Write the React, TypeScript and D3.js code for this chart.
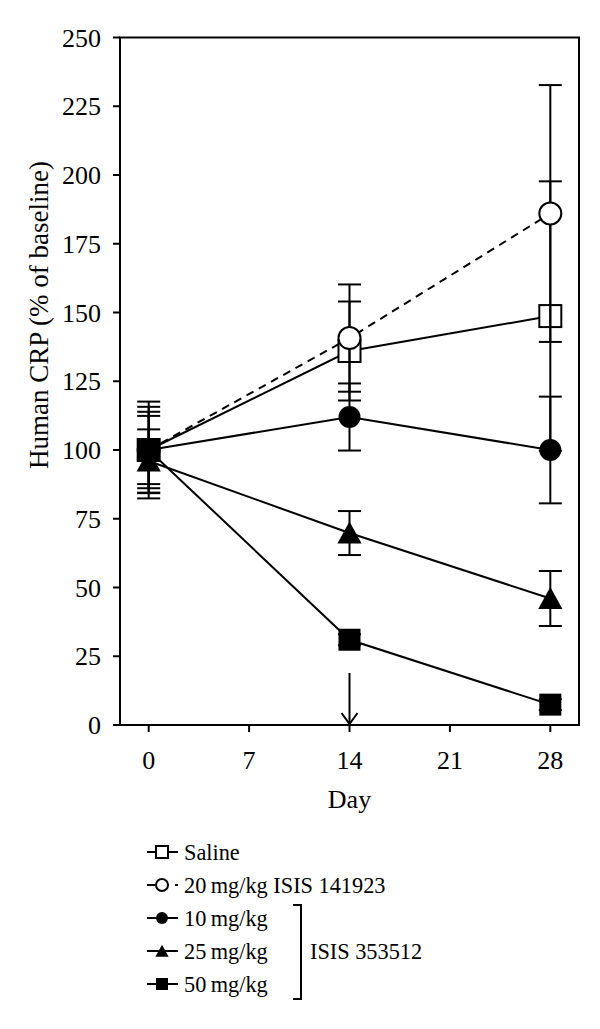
import React from "react";
import * as d3 from "d3";

const days = [0, 14, 28];
const xTicks = [0, 7, 14, 21, 28];
const yTicks = [0, 25, 50, 75, 100, 125, 150, 175, 200, 225, 250];

const salineMean = [100, 136, 148.7];
const salineErr = [17.6, 18, 49];
const isis141923Mean = [100, 140.7, 186];
const isis141923Err = [15.7, 19.5, 46.7];
const mg10Mean = [100, 112, 100];
const mg10Err = [13.9, 12.2, 19.4];
const mg25Mean = [96, 69.8, 46];
const mg25Err = [11.5, 8, 10];
const mg50Mean = [100, 31, 7.4];
const mg50Err = [12.4, 2, 2];

const legendLabels = ["Saline", "20\u2009mg/kg ISIS 141923", "10\u2009mg/kg", "25\u2009mg/kg", "50\u2009mg/kg"];
const bracketLabel = "ISIS 353512";
const xTitle = "Day";
const yTitle = "Human CRP (% of baseline)";
const arrowDay = 14;

type Series = { mean: number[]; err: number[]; marker: string; dashed: boolean };
const series: Series[] = [
  { mean: salineMean, err: salineErr, marker: "openSquare", dashed: false },
  { mean: isis141923Mean, err: isis141923Err, marker: "openCircle", dashed: true },
  { mean: mg10Mean, err: mg10Err, marker: "filledCircle", dashed: false },
  { mean: mg25Mean, err: mg25Err, marker: "filledTriangle", dashed: false },
  { mean: mg50Mean, err: mg50Err, marker: "filledSquare", dashed: false },
];

const FONT = "Liberation Serif";

function Marker({ type, cx, cy, s }: { type: string; cx: number; cy: number; s: number }) {
  const h = s / 2;
  if (type === "openSquare")
    return <rect x={cx - h} y={cy - h} width={s} height={s} fill="white" stroke="black" strokeWidth={2} />;
  if (type === "filledSquare")
    return <rect x={cx - h} y={cy - h} width={s} height={s} fill="black" />;
  if (type === "openCircle")
    return <circle cx={cx} cy={cy} r={h} fill="white" stroke="black" strokeWidth={2} />;
  if (type === "filledCircle") return <circle cx={cx} cy={cy} r={h} fill="black" />;
  const tw = s * 1.1;
  return (
    <path
      d={`M${cx},${cy - h * 1.05} L${cx + tw / 2},${cy + h * 0.95} L${cx - tw / 2},${cy + h * 0.95} Z`}
      fill="black"
    />
  );
}

export default function App() {
  const x = d3.scaleLinear().domain([-2, 30]).range([120, 579]);
  const y = d3.scaleLinear().domain([0, 250]).range([725, 37.5]);
  const line = d3
    .line<number>()
    .x((_, i) => x(days[i]))
    .y((d) => y(d));
  const capW = 11.5;
  const ms = 22;

  const errBars = (s: Series, k: number) =>
    s.mean.map((m, i) => {
      const cx = x(days[i]);
      const top = y(m + s.err[i]);
      const bot = y(m - s.err[i]);
      return (
        <g key={`e${k}-${i}`} stroke="black" strokeWidth={2}>
          <line x1={cx} x2={cx} y1={top} y2={bot} />
          <line x1={cx - capW} x2={cx + capW} y1={top} y2={top} />
          <line x1={cx - capW} x2={cx + capW} y1={bot} y2={bot} />
        </g>
      );
    });

  const ax = x(arrowDay);
  const legendY = [852, 885, 918, 951, 984];
  const lx0 = 147;
  const lx1 = 178;
  const lmx = 162;

  return (
    <svg width={600} height={1029} style={{ position: "absolute", left: 0, top: 0, background: "white" }} fontFamily={FONT}>
      <rect x={0} y={0} width={600} height={1029} fill="white" />
      {/* frame */}
      <rect x={x(-2)} y={y(250)} width={x(30) - x(-2)} height={y(0) - y(250)} fill="none" stroke="black" strokeWidth={2} />
      {/* y ticks */}
      {yTicks.map((t) => (
        <g key={`yt${t}`}>
          <line x1={x(-2) - 7} x2={x(-2)} y1={y(t)} y2={y(t)} stroke="black" strokeWidth={2} />
          <text x={101} y={y(t)} dy="0.35em" textAnchor="end" fontSize={26}>
            {t}
          </text>
        </g>
      ))}
      {/* x ticks */}
      {xTicks.map((t) => (
        <g key={`xt${t}`}>
          <line x1={x(t)} x2={x(t)} y1={y(0)} y2={y(0) + 7} stroke="black" strokeWidth={2} />
          <text x={x(t)} y={769} textAnchor="middle" fontSize={26}>
            {t}
          </text>
        </g>
      ))}
      <text x={x(14)} y={808} textAnchor="middle" fontSize={26}>
        {xTitle}
      </text>
      <text transform={`translate(48,315) rotate(-90)`} textAnchor="middle" fontSize={27}>
        {yTitle}
      </text>
      {/* lines */}
      {series.map((s, k) => (
        <path
          key={`l${k}`}
          d={line(s.mean) || ""}
          fill="none"
          stroke="black"
          strokeWidth={2}
          strokeDasharray={s.dashed ? "8,6" : undefined}
        />
      ))}
      {/* saline markers under error bars */}
      {series[0].mean.map((m, i) => (
        <Marker key={`m0-${i}`} type="openSquare" cx={x(days[i])} cy={y(m)} s={ms} />
      ))}
      {series.map((s, k) => errBars(s, k))}
      {series.slice(1).map((s, k) =>
        s.mean.map((m, i) => <Marker key={`m${k + 1}-${i}`} type={s.marker} cx={x(days[i])} cy={y(m)} s={ms} />)
      )}
      {/* arrow */}
      <g stroke="black" strokeWidth={2} fill="none">
        <line x1={ax} x2={ax} y1={673} y2={y(0) - 1} />
        <path d={`M${ax - 8},${y(0) - 12} L${ax},${y(0) - 1} L${ax + 8},${y(0) - 12}`} />
      </g>
      {/* legend */}
      {series.map((s, k) => (
        <g key={`lg${k}`}>
          <line
            x1={lx0}
            x2={lx1}
            y1={legendY[k]}
            y2={legendY[k]}
            stroke="black"
            strokeWidth={2}
            strokeDasharray={s.dashed ? "8,6" : undefined}
          />
          <Marker type={s.marker} cx={lmx} cy={legendY[k]} s={12} />
          <text x={184} y={legendY[k]} dy="0.35em" fontSize={22.3}>
            {legendLabels[k]}
          </text>
        </g>
      ))}
      <path
        d={`M293,${legendY[2] - 13} L301,${legendY[2] - 13} L301,${legendY[4] + 15} L293,${legendY[4] + 15}`}
        fill="none"
        stroke="black"
        strokeWidth={2}
      />
      <text x={310} y={legendY[3]} dy="0.35em" fontSize={22.3}>
        {bracketLabel}
      </text>
    </svg>
  );
}
